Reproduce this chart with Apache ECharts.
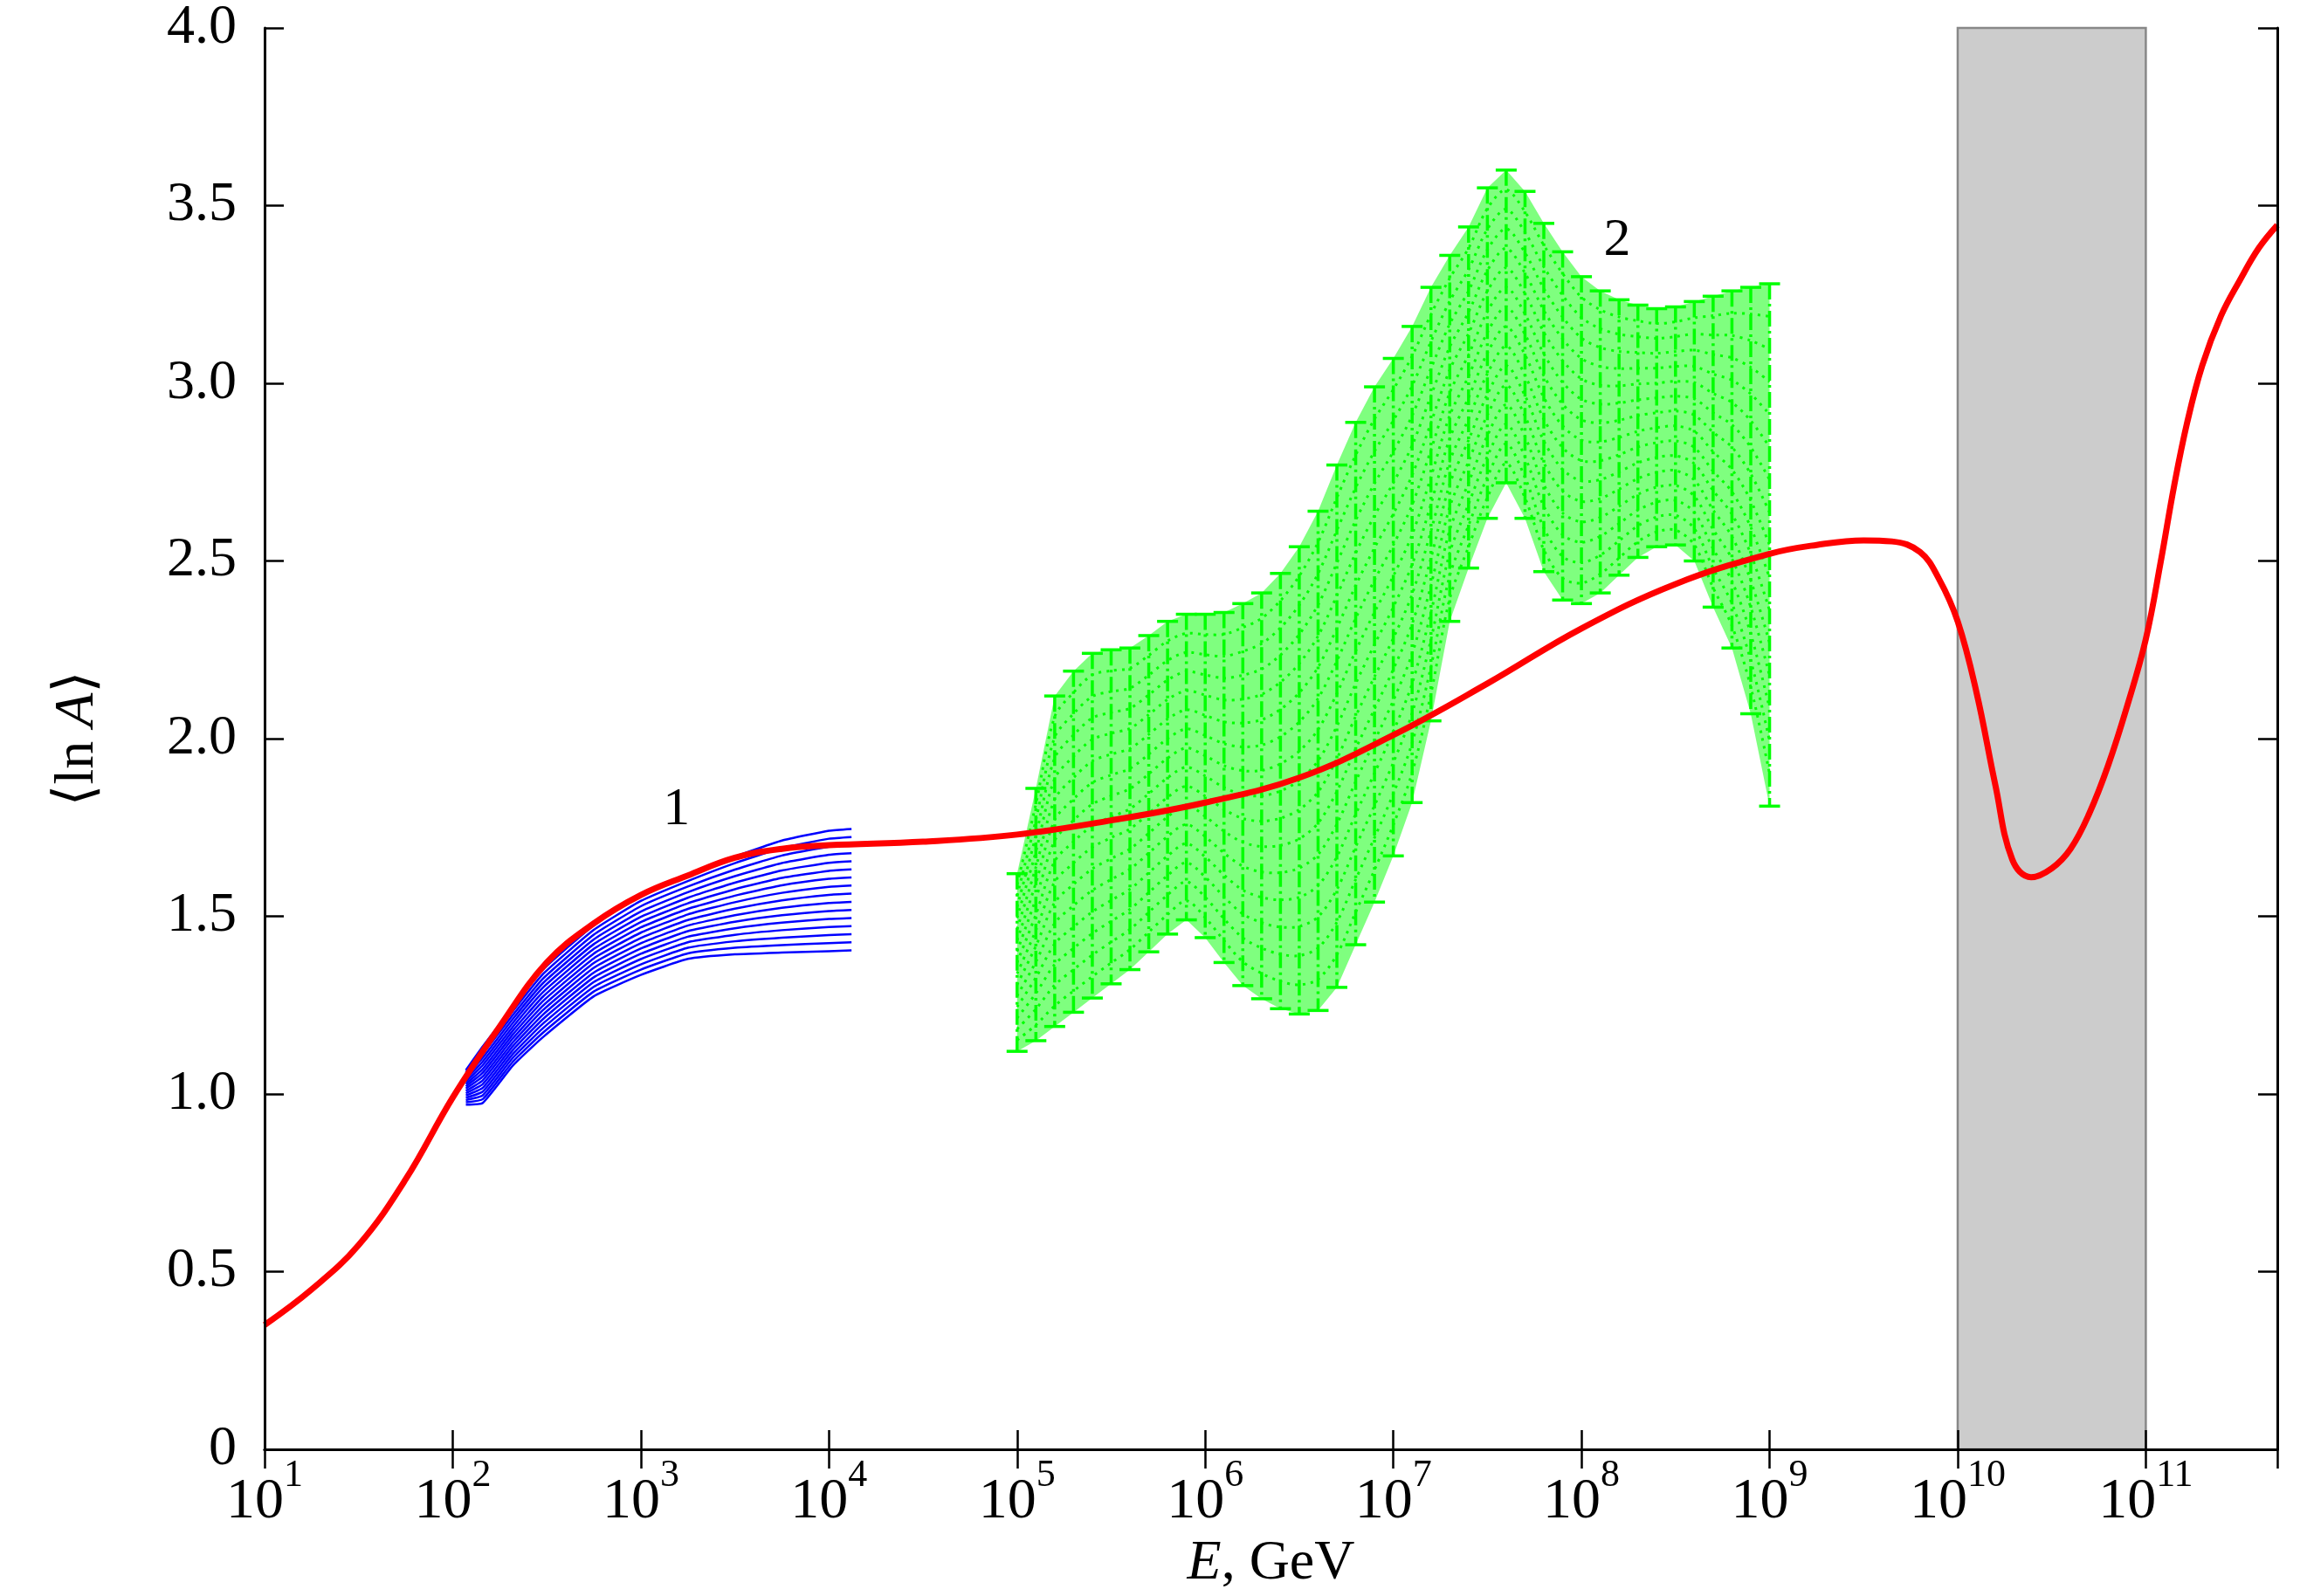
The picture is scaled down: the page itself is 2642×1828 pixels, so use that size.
<!DOCTYPE html>
<html>
<head>
<meta charset="utf-8">
<script src="https://cdn.jsdelivr.net/npm/echarts@6/dist/echarts.min.js"></script>
<style>
  html, body { margin: 0; padding: 0; background: #fff; }
  #chart { width: 2642px; height: 1828px; }
</style>
</head>
<body>
<div id="chart"></div>
<script>
// x is log10(E / GeV), y is <ln A>

// red curve
const RED_E = [1.0, 1.25, 1.5, 1.75, 2.0, 2.25, 2.5, 2.75, 3.0, 3.25, 3.5, 3.75, 4.0, 4.5, 5.0, 5.5,
  6.0, 6.5, 7.0, 7.5, 8.0, 8.5, 9.0, 9.25, 9.5, 9.65, 9.8, 9.9, 10.0, 10.1, 10.2, 10.29, 10.39,
  10.5, 10.6, 10.7, 10.8, 10.9, 11.0, 11.08, 11.15, 11.22, 11.3, 11.4, 11.5, 11.6, 11.699]
const RED_V = [0.35, 0.45, 0.575, 0.76, 0.99, 1.19, 1.37, 1.48, 1.56, 1.615, 1.665, 1.69, 1.70, 1.71, 1.73, 1.77,
  1.82, 1.89, 2.01, 2.155, 2.31, 2.435, 2.52, 2.545, 2.558, 2.555, 2.525, 2.45, 2.33, 2.13, 1.87, 1.66, 1.61,
  1.635, 1.69, 1.79, 1.925, 2.09, 2.28, 2.50, 2.71, 2.89, 3.05, 3.19, 3.29, 3.38, 3.445]

// band 1 (blue)
const BLUE_E = [2.07, 2.16, 2.32, 2.48, 2.75, 3.0, 3.25, 3.5, 3.75, 4.0, 4.12]
const BLUE_LOW = [0.97, 0.975, 1.08, 1.16, 1.275, 1.335, 1.38, 1.393, 1.398, 1.402, 1.404]
const BLUE_HIGH = [1.067, 1.134, 1.244, 1.35, 1.475, 1.558, 1.615, 1.668, 1.713, 1.741, 1.746]

// band 2 (green)
const GREEN_E = [5.0, 5.1, 5.2, 5.3, 5.4, 5.5, 5.6, 5.7, 5.8, 5.9, 6.0, 6.1, 6.2, 6.3, 6.4, 6.5, 6.6, 6.7, 6.8, 6.9,
  7.0, 7.1, 7.2, 7.3, 7.4, 7.5, 7.6, 7.7, 7.8, 7.9, 8.0, 8.1, 8.2, 8.3, 8.4, 8.5, 8.6, 8.7, 8.8, 8.9, 9.0]
const GREEN_LOW = [1.12, 1.15, 1.19, 1.23, 1.27, 1.31, 1.35, 1.40, 1.45, 1.49, 1.44, 1.37, 1.305, 1.268, 1.24, 1.225,
  1.235, 1.30, 1.42, 1.54, 1.67, 1.82, 2.05, 2.33, 2.48, 2.62, 2.72, 2.62, 2.47, 2.39, 2.38, 2.41, 2.46, 2.51,
  2.54, 2.545, 2.50, 2.37, 2.255, 2.07, 1.81]
const GREEN_HIGH = [1.62, 1.86, 2.12, 2.19, 2.24, 2.25, 2.255, 2.29, 2.33, 2.35, 2.35, 2.355, 2.38, 2.41, 2.465, 2.54,
  2.64, 2.77, 2.89, 2.99, 3.07, 3.16, 3.27, 3.36, 3.44, 3.55, 3.60, 3.54, 3.45, 3.37, 3.30, 3.26, 3.235, 3.22,
  3.21, 3.215, 3.23, 3.245, 3.26, 3.27, 3.28]

// shaded range
const GRAY_BAND = [10, 11]

// curve labels
const NOTE_E = [3.19, 8.19]
const NOTE_V = [1.80, 3.40]
const NOTE_TEXT = ['1', '2']

const X_MIN = 1
const X_MAX = 11.699
const FONT = '"Liberation Serif", "DejaVu Serif", serif'
const BLUE_LINES = 16
const GREEN_DOTTED = 16

const chart = echarts.init(document.getElementById('chart'))

function bandLine(api, es, lo, hi, f) {
  return es.map((e, j) => api.coord([e, lo[j] + f * (hi[j] - lo[j])]))
}

function renderBlue(params, api) {
  const children = []
  for (let k = 0; k < BLUE_LINES; k++) {
    children.push({
      type: 'polyline',
      shape: { points: bandLine(api, BLUE_E, BLUE_LOW, BLUE_HIGH, k / (BLUE_LINES - 1)), smooth: 0.15 },
      style: { stroke: '#0000ff', lineWidth: 2.5, fill: 'none' }
    })
  }
  return { type: 'group', children }
}

function renderGreen(params, api) {
  const children = []
  const upper = bandLine(api, GREEN_E, GREEN_LOW, GREEN_HIGH, 1)
  const lower = bandLine(api, GREEN_E, GREEN_LOW, GREEN_HIGH, 0)
  children.push({
    type: 'polygon',
    shape: { points: upper.concat(lower.slice().reverse()) },
    style: { fill: 'rgba(0,255,0,0.5)', stroke: 'none' }
  })
  for (let k = 1; k < GREEN_DOTTED; k++) {
    children.push({
      type: 'polyline',
      shape: { points: bandLine(api, GREEN_E, GREEN_LOW, GREEN_HIGH, k / GREEN_DOTTED), smooth: 0.3 },
      style: { stroke: '#00ff00', lineWidth: 3, fill: 'none', lineDash: [3, 6] }
    })
  }
  for (let j = 0; j < GREEN_E.length; j++) {
    const top = upper[j], bot = lower[j]
    children.push({
      type: 'line',
      shape: { x1: top[0], y1: top[1], x2: bot[0], y2: bot[1] },
      style: { stroke: '#00ff00', lineWidth: 3.5, lineDash: [18, 5, 3, 5] }
    })
    children.push({
      type: 'line',
      shape: { x1: top[0] - 12, y1: top[1], x2: top[0] + 12, y2: top[1] },
      style: { stroke: '#00ff00', lineWidth: 3.5 }
    })
    children.push({
      type: 'line',
      shape: { x1: bot[0] - 12, y1: bot[1], x2: bot[0] + 12, y2: bot[1] },
      style: { stroke: '#00ff00', lineWidth: 3.5 }
    })
  }
  return { type: 'group', children }
}

function renderGray(params, api) {
  const p0 = api.coord([GRAY_BAND[0], 4])
  const p1 = api.coord([GRAY_BAND[1], 0])
  return {
    type: 'rect',
    shape: { x: p0[0], y: p0[1], width: p1[0] - p0[0], height: p1[1] - p0[1] },
    style: { fill: '#cccccc', stroke: '#888888', lineWidth: 2.5 }
  }
}

function renderNote(params, api) {
  const p = api.coord([api.value(0), api.value(1)])
  return {
    type: 'text',
    x: p[0], y: p[1],
    style: {
      text: NOTE_TEXT[params.dataIndex], font: '62px ' + FONT, fill: '#000',
      align: 'center', verticalAlign: 'middle'
    }
  }
}

const frameLine = { lineStyle: { color: '#000', width: 3 } }
const frameTick = { inside: true, length: 22, lineStyle: { color: '#000', width: 2.5 } }

const option = {
  animation: false,
  backgroundColor: '#fff',
  grid: { left: 303, right: 34, top: 30, bottom: 168, containLabel: false },
  xAxis: [
    {
      type: 'value', min: X_MIN, max: X_MAX, interval: 1, z: 10,
      axisLine: frameLine, axisTick: frameTick, splitLine: { show: false },
      axisLabel: {
        margin: 8,
        showMaxLabel: false,
        formatter: v => Number.isInteger(v) ? '{b|10}{s|' + v + '}' : '',
        rich: {
          b: { fontFamily: FONT, fontSize: 66, color: '#000', lineHeight: 86, verticalAlign: 'bottom' },
          s: { fontFamily: FONT, fontSize: 44, color: '#000', lineHeight: 44, verticalAlign: 'top' }
        }
      },
      name: '{i|E}, GeV', nameLocation: 'middle', nameGap: 90,
      nameTextStyle: {
        fontFamily: FONT, fontSize: 64, color: '#000',
        rich: { i: { fontFamily: FONT, fontSize: 64, fontStyle: 'italic', color: '#000' } }
      }
    },
    {
      type: 'value', min: X_MIN, max: X_MAX, interval: 1, position: 'top', z: 10,
      axisLine: frameLine, axisTick: frameTick, axisLabel: { show: false }, splitLine: { show: false }
    }
  ],
  yAxis: [
    {
      type: 'value', min: 0, max: 4, interval: 0.5, z: 10,
      axisLine: frameLine, axisTick: frameTick, splitLine: { show: false },
      axisLabel: {
        margin: 32, fontFamily: FONT, fontSize: 64, color: '#000',
        formatter: v => v === 0 ? '0' : v.toFixed(1)
      },
      name: '\u27e8ln {i|A}\u27e9', nameLocation: 'middle', nameGap: 182,
      nameTextStyle: {
        fontFamily: FONT, fontSize: 64, color: '#000',
        rich: { i: { fontFamily: FONT, fontSize: 64, fontStyle: 'italic', color: '#000' } }
      }
    },
    {
      type: 'value', min: 0, max: 4, interval: 0.5, position: 'right', z: 10,
      axisLine: frameLine, axisTick: frameTick, axisLabel: { show: false }, splitLine: { show: false }
    }
  ],
  series: [
    { type: 'custom', z: 1, silent: true, renderItem: renderGray, data: [[GRAY_BAND[0], 0]] },
    { type: 'custom', z: 3, silent: true, clip: true, renderItem: renderBlue, data: [[BLUE_E[0], BLUE_LOW[0]]] },
    { type: 'custom', z: 3, silent: true, clip: true, renderItem: renderGreen, data: [[GREEN_E[0], GREEN_LOW[0]]] },
    {
      type: 'line', z: 5, silent: true, showSymbol: false, smooth: 0.4,
      lineStyle: { color: '#ff0000', width: 7 },
      data: RED_E.map((e, i) => [e, RED_V[i]])
    },
    { type: 'custom', z: 6, silent: true, renderItem: renderNote, data: NOTE_E.map((e, i) => [e, NOTE_V[i]]) }
  ]
}

chart.setOption(option)
</script>
</body>
</html>
